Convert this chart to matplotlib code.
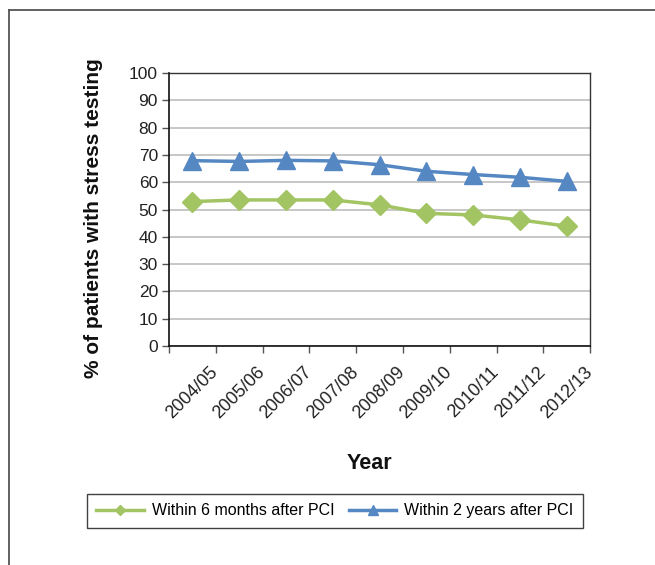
import matplotlib
matplotlib.use('Agg')
import matplotlib.pyplot as plt
from matplotlib.lines import Line2D
from matplotlib.transforms import ScaledTranslation

plt.rcParams['font.family'] = ['Liberation Sans', 'DejaVu Sans']

years = ['2004/05', '2005/06', '2006/07', '2007/08', '2008/09',
         '2009/10', '2010/11', '2011/12', '2012/13']
within_6m = [52.9, 53.5, 53.5, 53.5, 51.7, 48.6, 48.0, 46.2, 43.9]
within_2y = [67.9, 67.6, 68.0, 67.8, 66.4, 64.0, 62.8, 61.8, 60.3]
yticks = list(range(0, 101, 10))

green = '#A3C462'
blue = '#5587C2'

fig = plt.figure(figsize=(6.55, 5.65), dpi=100)
fig.patch.set_facecolor('white')
ax = fig.add_axes([0.258, 0.3876, 0.643, 0.4832])

x = list(range(len(years)))
ax.plot(x, within_6m, color=green, lw=2.5, marker='D', markersize=10,
        markeredgecolor=green, label='Within 6 months after PCI', zorder=3)
ax.plot(x, within_2y, color=blue, lw=2.5, marker='^', markersize=13,
        markeredgecolor=blue, label='Within 2 years after PCI', zorder=3)

ax.set_xlim(-0.5, len(years) - 0.5)
ax.set_ylim(0, 100)
ax.set_yticks(yticks)
ax.yaxis.grid(True, color='#BDBDBD', lw=1.2)
ax.set_axisbelow(True)

# category labels centered, tick marks on the boundaries
ax.set_xticks(x)
ax.set_xticklabels(years, rotation=45, ha='right', va='center',
                   rotation_mode='anchor', fontsize=13, color='#222222')
ax.set_xticks([i - 0.5 for i in range(len(years) + 1)], minor=True)
ax.tick_params(axis='x', which='major', length=0, pad=17)
ax.tick_params(axis='x', which='minor', length=5, width=1, color='#555555')
ax.tick_params(axis='y', length=5, width=1, color='#555555', labelsize=12.5,
               labelcolor='#222222', pad=3)
for lab in ax.get_xticklabels():
    lab.set_transform(lab.get_transform() + ScaledTranslation(0.23, 0, fig.dpi_scale_trans))

for s in ['left', 'bottom']:
    ax.spines[s].set_color('#111111')
    ax.spines[s].set_linewidth(1.2)
for s in ['top', 'right']:
    ax.spines[s].set_color('#333333')
    ax.spines[s].set_linewidth(1.0)

ax.set_ylabel('% of patients with stress testing', fontsize=15,
              fontweight='bold', color='#111111')
ax.yaxis.set_label_coords(-0.157, 0.469)
ax.set_xlabel('Year', fontsize=15.5, fontweight='bold', color='#111111')
ax.xaxis.set_label_coords(0.476, -0.392)

leg = fig.legend(loc='center', bbox_to_anchor=(0.511, 0.0956), ncol=2,
                 fontsize=11.5, frameon=True, fancybox=False, markerscale=0.5,
                 handlelength=3.0, handletextpad=0.45, columnspacing=0.9,
                 borderpad=0.6)
leg.get_frame().set_edgecolor('#111111')
leg.get_frame().set_linewidth(1.0)

# outer frame (top and left only)
fig.add_artist(Line2D([0.0137, 1.0], [0.9823, 0.9823], transform=fig.transFigure,
                      color='#555555', lw=1.3))
fig.add_artist(Line2D([0.0137, 0.0137], [0.0, 0.9823], transform=fig.transFigure,
                      color='#555555', lw=1.3))

fig.savefig('out.png', dpi=100, facecolor='white')
